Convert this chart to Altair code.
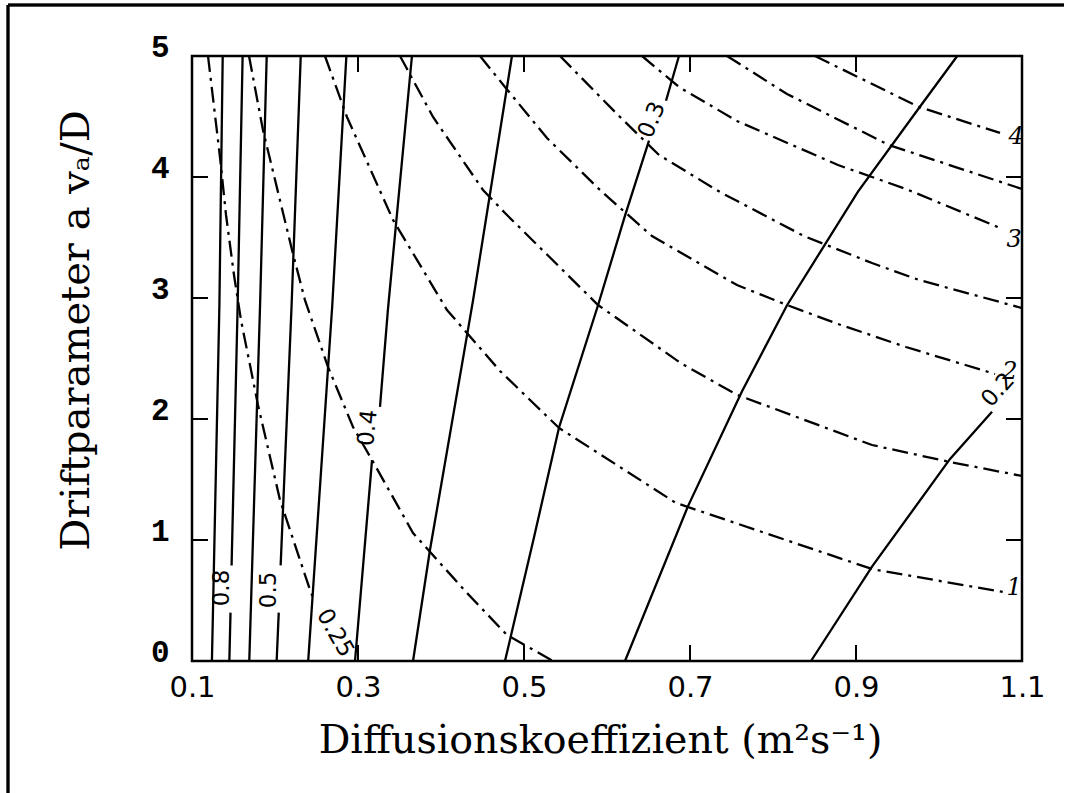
import altair as alt
import pandas as pd

# ---- axis ticks -------------------------------------------------------
X_LABELS = [0.1, 0.3, 0.5, 0.7, 0.9, 1.1]
Y_LABELS = [0, 1, 2, 3, 4, 5]
X_INNER_TICKS = [0.3, 0.5, 0.7, 0.9]
Y_INNER_TICKS = [1, 2, 3, 4]

# ---- solid isolines (D in m^2/s, drift parameter) ---------------------
s1 = [(0.137, 5.0), (0.133, 2.94), (0.124, 0.0)]
s2_top = [(0.161, 5.0), (0.155, 2.94), (0.1477, 0.79)]
s2_bot = [(0.1464, 0.40), (0.145, 0.0)]
s3 = [(0.190, 5.0), (0.182, 2.94), (0.169, 0.0)]
s4_top = [(0.231, 5.0), (0.220, 2.94), (0.2068, 0.79)]
s4_bot = [(0.2045, 0.40), (0.202, 0.0)]
s5 = [(0.286, 5.0), (0.269, 2.94), (0.240, 0.0)]
s6_top = [(0.365, 5.0), (0.336, 2.90), (0.3265, 2.10)]
s6_bot = [(0.3169, 1.66), (0.2964, 0.0)]
s7 = [(0.4855, 5.0), (0.4386, 2.98), (0.3867, 0.917), (0.3663, 0.0)]
s8_top = [(0.6867, 5.0), (0.6711, 4.63)]
s8_bot = [(0.6506, 4.30), (0.6217, 3.68), (0.5892, 2.94), (0.5422, 1.93),
          (0.5120, 1.02), (0.4771, 0.0)]
s9 = [(1.022, 5.0), (0.9759, 4.57), (0.9024, 3.88), (0.8169, 2.94),
      (0.7627, 2.23), (0.6976, 1.28), (0.6217, 0.0)]
s10 = [(1.0639, 2.06), (1.0133, 1.67), (0.9193, 0.78), (0.8458, 0.0)]

# ---- dash-dotted isolines ---------------------------------------------
d025 = [(0.1193, 5.0), (0.1337, 4.165), (0.1410, 3.686), (0.1506, 3.190),
        (0.1590, 2.818), (0.1795, 2.116), (0.2060, 1.331), (0.2422, 0.587),
        (0.2470, 0.504)]
d05 = [(0.1687, 5.0), (0.1855, 4.388), (0.2205, 3.397), (0.2361, 2.983),
       (0.2639, 2.430), (0.2940, 1.934), (0.3169, 1.661), (0.3663, 1.058),
       (0.4313, 0.562), (0.4795, 0.215), (0.5350, 0.0)]
d1 = [(0.2602, 5.0), (0.2867, 4.496), (0.3422, 3.645), (0.4072, 2.901),
      (0.4711, 2.397), (0.5422, 1.926), (0.6831, 1.306), (0.9193, 0.760),
      (1.0771, 0.570)]
d15 = [(0.3506, 5.0), (0.3904, 4.496), (0.4506, 3.893), (0.4771, 3.702),
       (0.5892, 2.942), (0.6904, 2.455), (0.7566, 2.200), (0.9193, 1.785),
       (1.0133, 1.645), (1.1, 1.529)]
d2 = [(0.4470, 5.0), (0.4771, 4.744), (0.5277, 4.322), (0.5928, 3.884),
      (0.6542, 3.512), (0.7566, 3.107), (0.8169, 2.942), (0.8783, 2.785),
      (0.9602, 2.595), (1.0675, 2.372)]
d25 = [(0.5434, 5.0), (0.6133, 4.512), (0.6627, 4.182), (0.7361, 3.876),
       (0.8373, 3.512), (0.9193, 3.289), (0.9759, 3.149), (1.1, 2.917)]
d3 = [(0.6422, 5.0), (0.6867, 4.744), (0.7566, 4.463), (0.8783, 4.099),
      (0.9602, 3.901), (1.0735, 3.579)]
d35 = [(0.7446, 5.0), (0.8169, 4.686), (0.9398, 4.264), (1.1, 3.901)]
d4 = [(0.8506, 5.0), (0.9759, 4.579), (1.0735, 4.364)]

# ---- isoline labels: text, D, drift, rotation -------------------------
upright_labels = [("0.8", 0.1361, 0.603, 270), ("0.5", 0.1928, 0.587, 270),
                  ("0.4", 0.3120, 1.926, 276), ("0.3", 0.6542, 4.471, 293),
                  ("0.2", 1.0711, 2.240, 312), ("0.25", 0.2723, 0.231, 60)]
italic_labels = [("1", 1.0904, 0.603), ("2", 1.0855, 2.388),
                 ("3", 1.0904, 3.479), ("4", 1.0928, 4.331)]

W, H = 830, 605


def to_frame(segments):
    rows = []
    for name, pts in segments.items():
        for i, (d, a) in enumerate(pts):
            rows.append({"seg": name, "i": i, "D": d, "A": a})
    return pd.DataFrame(rows)


solid_df = to_frame({"s1": s1, "s2t": s2_top, "s2b": s2_bot, "s3": s3,
                     "s4t": s4_top, "s4b": s4_bot, "s5": s5, "s6t": s6_top,
                     "s6b": s6_bot, "s7": s7, "s8t": s8_top, "s8b": s8_bot,
                     "s9": s9, "s10": s10})
dash_df = to_frame({"d025": d025, "d05": d05, "d1": d1, "d15": d15, "d2": d2,
                    "d25": d25, "d3": d3, "d35": d35, "d4": d4})
up_df = pd.DataFrame(upright_labels, columns=["t", "D", "A", "ang"])
it_df = pd.DataFrame(italic_labels, columns=["t", "D", "A"])

xs = alt.Scale(domain=[0.1, 1.1], nice=False, zero=False)
ys = alt.Scale(domain=[0, 5], nice=False, zero=False)

x_axis = alt.Axis(values=X_LABELS, format=".1f", ticks=False, domain=False,
                  grid=False, labelFlush=False, labelOverlap=False,
                  labelFont="DejaVu Sans", labelFontSize=29, labelPadding=12,
                  labelColor="black", title="Diffusionskoeffizient (m²s⁻¹)",
                  titleFont="DejaVu Serif", titleFontSize=39.5,
                  titleFontWeight="normal", titleColor="black", titlePadding=19,
                  titleX=408)
y_axis = alt.Axis(values=Y_LABELS, format="d", ticks=False, domain=False,
                  grid=False, labelFlush=False, labelOverlap=False,
                  labelFont="Liberation Mono", labelFontSize=31,
                  labelFontWeight="bold", labelBaseline="alphabetic",
                  labelPadding=23, labelColor="black",
                  title="Driftparameter a vₐ/D", titleFont="DejaVu Serif",
                  titleFontSize=40, titleFontWeight="normal",
                  titleColor="black", titlePadding=54, titleY=274)

solid = alt.Chart(solid_df).mark_line(color="black", strokeWidth=2.3).encode(
    x=alt.X("D:Q", scale=xs, axis=x_axis),
    y=alt.Y("A:Q", scale=ys, axis=y_axis),
    detail="seg:N", order="i:Q")

dashed = alt.Chart(dash_df).mark_line(
    color="black", strokeWidth=2.3, strokeDash=[16, 6, 3, 6]).encode(
    x=alt.X("D:Q", scale=xs), y=alt.Y("A:Q", scale=ys),
    detail="seg:N", order="i:Q")

up_text = alt.Chart(up_df).mark_text(
    font="DejaVu Sans", fontSize=23, color="black", align="center",
    baseline="middle").encode(
    x=alt.X("D:Q", scale=xs), y=alt.Y("A:Q", scale=ys), text="t:N",
    angle=alt.Angle("ang:Q", scale=None))

it_text = alt.Chart(it_df).mark_text(
    font="DejaVu Serif", fontStyle="italic", fontSize=24, color="black",
    align="center", baseline="middle").encode(
    x=alt.X("D:Q", scale=xs), y=alt.Y("A:Q", scale=ys), text="t:N")

# inward ticks on all four sides
xt_df = pd.DataFrame({"D": X_INNER_TICKS})
yt_df = pd.DataFrame({"A": Y_INNER_TICKS})
tick_style = dict(color="black", strokeWidth=2)
t_bottom = alt.Chart(xt_df).mark_rule(**tick_style).encode(
    x=alt.X("D:Q", scale=xs), y=alt.value(H), y2=alt.value(H - 16))
t_top = alt.Chart(xt_df).mark_rule(**tick_style).encode(
    x=alt.X("D:Q", scale=xs), y=alt.value(0), y2=alt.value(16))
t_left = alt.Chart(yt_df).mark_rule(**tick_style).encode(
    y=alt.Y("A:Q", scale=ys), x=alt.value(0), x2=alt.value(16))
t_right = alt.Chart(yt_df).mark_rule(**tick_style).encode(
    y=alt.Y("A:Q", scale=ys), x=alt.value(W), x2=alt.value(W - 16))

# page border around the figure
border_top = alt.Chart(xt_df).mark_rule(color="black", strokeWidth=2.5).encode(
    x=alt.value(-184), x2=alt.value(872), y=alt.value(-51))
border_left = alt.Chart(xt_df).mark_rule(color="black", strokeWidth=2.5).encode(
    x=alt.value(-184), y=alt.value(-51), y2=alt.value(740))

chart = alt.layer(
    solid, dashed, up_text, it_text, t_bottom, t_top, t_left, t_right,
    border_top, border_left
).properties(
    width=W, height=H,
    padding={"left": 192, "top": 56, "right": 48, "bottom": 132},
    autosize=alt.AutoSizeParams(type="none"),
    background="white",
).configure_view(stroke="black", strokeWidth=2.5)

chart.save("out.html", embed_options={"renderer": "svg", "actions": False})
